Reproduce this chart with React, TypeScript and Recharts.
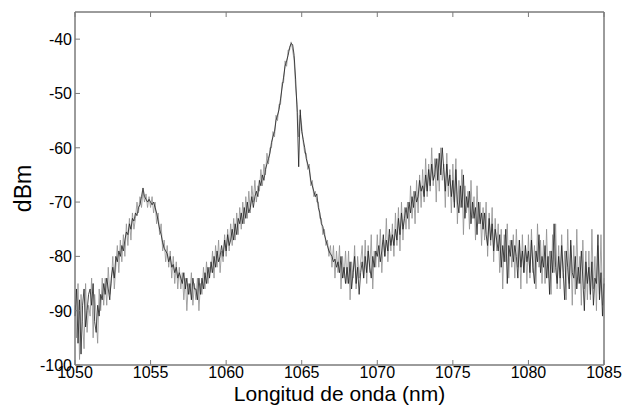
import React from "react";
import { LineChart, Line, XAxis, YAxis, ReferenceArea } from "recharts";

// optical spectrum, one value every 0.1 nm from 1050 nm (two overlaid traces)
const WL_START = 1050;
const WL_STEP = 0.1;

const blackTrace: number[] = [
  // 1050
  -91, -86, -96, -88, -98, -89, -86, -93, -90, -87,
  // 1051
  -86, -89, -85, -92, -94, -89, -91, -87, -88, -85,
  // 1052
  -87, -84, -86, -88, -84, -82, -84, -80, -81, -79,
  // 1053
  -80, -78, -79, -77, -75.5, -76, -74, -75, -73, -73.5,
  // 1054
  -72, -72.5, -71, -70.5, -69, -67.4, -69, -69.5, -70, -69.5,
  // 1055
  -70, -70.5, -70, -71, -72, -73.5, -75, -76, -77.5, -78.5,
  // 1056
  -79, -79.5, -81, -80, -82, -81.5, -83, -82, -84, -83,
  // 1057
  -84, -85, -83, -86, -84, -87, -85, -88, -84, -86,
  // 1058
  -86, -88, -84, -87, -84, -86, -83, -85, -82, -84,
  // 1059
  -81, -83, -80, -82, -79, -81, -80, -78, -80, -77,
  // 1060
  -79, -76, -78, -77, -75, -77, -74, -76, -73, -74,
  // 1061
  -72, -74, -71, -73, -70, -72, -71, -69, -71, -69,
  // 1062
  -68, -69, -66, -67, -65, -66, -64, -63, -62, -61,
  // 1063
  -59, -58, -57, -55, -54, -53, -51, -49, -47, -45,
  // 1064
  -44, -43, -41.5, -40.8, -41, -43, -47.5, -53.5, -63.5, -53,
  // 1065
  -57, -58.5, -60, -62, -63, -64, -66, -67, -68, -69,
  // 1066
  -68.5, -71, -72, -74, -74.5, -76, -77, -78, -79, -79.5,
  // 1067
  -80, -81, -80.5, -82, -81, -83, -80, -84, -82, -85,
  // 1068
  -82, -85, -81, -86, -83, -80, -85, -82, -87, -83,
  // 1069
  -81, -84, -80, -83, -79, -82, -84, -80, -82, -79,
  // 1070
  -80, -78, -81, -79, -76, -80, -77, -79, -75, -78,
  // 1071
  -76, -78, -75, -77, -73, -76, -72, -75, -73, -71,
  // 1072
  -73, -70, -72, -69, -71, -68, -70, -69, -66, -68,
  // 1073
  -67, -69, -65, -68, -64, -67, -63, -66, -65, -62,
  // 1074
  -66, -61, -65, -60, -64, -68, -63, -67, -65, -69,
  // 1075
  -66, -71, -64, -70, -72, -67, -71, -65, -73, -69,
  // 1076
  -71, -68, -74, -70, -73, -71, -76, -70, -74, -72,
  // 1077
  -75, -72, -76, -78, -73, -77, -74, -79, -75, -77,
  // 1078
  -79, -76, -82, -78, -81, -75, -85, -78, -80, -77,
  // 1079
  -81, -78, -80, -84, -77, -82, -79, -83, -78, -81,
  // 1080
  -79, -83, -77, -82, -85, -79, -81, -76, -83, -80,
  // 1081
  -82, -78, -84, -80, -87, -79, -83, -74, -82, -85,
  // 1082
  -80, -84, -78, -83, -88, -79, -82, -86, -77, -83,
  // 1083
  -84, -80, -86, -82, -85, -79, -84, -90, -81, -85,
  // 1084
  -82, -87, -81, -89, -84, -85, -76, -88, -83, -91,
  // 1085
  -85,
];

const grayTrace: number[] = [
  // 1050
  -89, -95, -85, -99, -87, -92, -97, -85, -94, -89,
  // 1051
  -91, -84, -95, -87, -91, -96, -86, -90, -84, -89,
  // 1052
  -84, -89, -82, -87, -85, -80, -86, -82, -78, -83,
  // 1053
  -77, -81, -76, -80, -74, -78, -73, -77, -72, -75,
  // 1054
  -73, -70, -72, -69, -71, -68, -70, -68.5, -71, -69,
  // 1055
  -71, -69, -72, -70, -74, -72, -76, -74, -79, -77,
  // 1056
  -81, -78, -82, -79, -84, -80, -85, -81, -86, -82,
  // 1057
  -86, -83, -88, -84, -90, -85, -87, -83, -89, -85,
  // 1058
  -88, -84, -90, -85, -87, -82, -86, -81, -85, -82,
  // 1059
  -83, -79, -84, -78, -82, -77, -83, -79, -81, -76,
  // 1060
  -80, -75, -79, -74, -78, -73, -77, -72, -76, -71,
  // 1061
  -75, -70, -74, -69, -73, -68, -72, -67, -70, -66,
  // 1062
  -70, -67, -68, -64, -67, -63, -65, -61, -63, -60,
  // 1063
  -60, -57, -58, -54, -55, -52, -52, -48, -48, -44,
  // 1064
  -45, -42, -42, -40.5, -42, -44, -49, -52, -58, -54,
  // 1065
  -56, -59, -61, -61, -64, -63, -67, -66, -69, -68,
  // 1066
  -70, -70, -73, -73, -76, -75, -78, -77, -80, -78,
  // 1067
  -82, -78, -84, -79, -83, -78, -86, -80, -84, -79,
  // 1068
  -85, -79, -88, -81, -84, -78, -86, -80, -84, -81,
  // 1069
  -78, -84, -77, -85, -78, -83, -76, -86, -79, -82,
  // 1070
  -76, -82, -75, -83, -77, -80, -73, -81, -76, -79,
  // 1071
  -74, -80, -72, -78, -71, -79, -70, -77, -71, -75,
  // 1072
  -70, -75, -67, -73, -68, -74, -66, -72, -65, -71,
  // 1073
  -64, -70, -62, -69, -63, -68, -60, -67, -62, -70,
  // 1074
  -62, -68, -60, -66, -63, -71, -61, -69, -64, -72,
  // 1075
  -63, -70, -62, -74, -66, -71, -64, -76, -67, -72,
  // 1076
  -68, -75, -66, -73, -69, -77, -67, -74, -70, -78,
  // 1077
  -71, -77, -70, -80, -72, -78, -71, -81, -73, -79,
  // 1078
  -74, -83, -75, -86, -76, -81, -74, -84, -77, -82,
  // 1079
  -76, -84, -75, -82, -77, -86, -76, -83, -78, -85,
  // 1080
  -76, -84, -75, -83, -78, -86, -74, -82, -77, -85,
  // 1081
  -77, -85, -75, -84, -79, -87, -76, -83, -74, -86,
  // 1082
  -78, -86, -76, -84, -79, -88, -75, -85, -78, -89,
  // 1083
  -78, -87, -75, -85, -80, -89, -77, -86, -79, -88,
  // 1084
  -79, -88, -75, -86, -80, -90, -78, -87, -76, -89,
  // 1085
  -84,
];

const xTicks = [1050, 1055, 1060, 1065, 1070, 1075, 1080, 1085];
const yTicks = [-100, -90, -80, -70, -60, -50, -40];

const data = blackTrace.map((b, i) => ({
  wl: Number((WL_START + i * WL_STEP).toFixed(1)),
  black: b,
  gray: grayTrace[i],
}));

const FONT = "'Liberation Sans', Arial, sans-serif";
const FRAME = "#7a7a7a";
const TICK_LEN = 5;

const BottomTick = ({ x, y, payload }: any) => (
  <g>
    <line x1={x} x2={x} y1={y} y2={y - TICK_LEN} stroke={FRAME} />
    <text x={x} y={y + 13} textAnchor="middle" fontFamily={FONT} fontSize={16} fill="#000">
      {payload.value}
    </text>
  </g>
);

const TopTick = ({ x, y }: any) => (
  <line x1={x} x2={x} y1={y} y2={y + TICK_LEN} stroke={FRAME} />
);

const LeftTick = ({ x, y, payload }: any) => (
  <g>
    <line x1={x} x2={x + TICK_LEN} y1={y} y2={y} stroke={FRAME} />
    <text x={x - 3} y={y + 6} textAnchor="end" fontFamily={FONT} fontSize={16} fill="#000">
      {payload.value}
    </text>
  </g>
);

const RightTick = ({ x, y }: any) => (
  <line x1={x} x2={x - TICK_LEN} y1={y} y2={y} stroke={FRAME} />
);

const XTitle = (props: any) => {
  const { x, y, width } = props.viewBox;
  return (
    <text
      x={x + width / 2}
      y={y + 36}
      textAnchor="middle"
      fontFamily={FONT}
      fontSize={21}
      fill="#000"
    >
      Longitud de onda (nm)
    </text>
  );
};

const YTitle = (props: any) => {
  const { y, height } = props.viewBox;
  const cx = 31;
  const cy = y + height / 2;
  return (
    <text
      x={cx}
      y={cy}
      transform={`rotate(-90, ${cx}, ${cy})`}
      textAnchor="middle"
      fontFamily={FONT}
      fontSize={23}
      fill="#000"
    >
      dBm
    </text>
  );
};

export default function App() {
  return (
    <div style={{ position: "absolute", left: 0, top: 0, background: "#fff" }}>
      <LineChart
        width={626}
        height={414}
        data={data}
        margin={{ top: 11, right: 21, bottom: 0, left: 0 }}
      >
        <XAxis
          xAxisId="b"
          dataKey="wl"
          type="number"
          domain={[1050, 1085]}
          ticks={xTicks}
          height={49}
          stroke={FRAME}
          tickLine={false}
          tickSize={0}
          tickMargin={0}
          tick={<BottomTick />}
          label={<XTitle />}
        />
        <XAxis
          xAxisId="t"
          dataKey="wl"
          type="number"
          orientation="top"
          domain={[1050, 1085]}
          ticks={xTicks}
          height={1}
          stroke={FRAME}
          tickLine={false}
          tickSize={0}
          tickMargin={0}
          tick={<TopTick />}
        />
        <YAxis
          yAxisId="l"
          type="number"
          domain={[-100, -35]}
          ticks={yTicks}
          width={75}
          stroke={FRAME}
          tickLine={false}
          tickSize={0}
          tickMargin={0}
          tick={<LeftTick />}
          label={<YTitle />}
        />
        <YAxis
          yAxisId="r"
          type="number"
          orientation="right"
          domain={[-100, -35]}
          ticks={yTicks}
          width={1}
          stroke={FRAME}
          tickLine={false}
          tickSize={0}
          tickMargin={0}
          tick={<RightTick />}
        />
        <ReferenceArea
          xAxisId="b"
          yAxisId="l"
          x1={1050}
          x2={1085}
          y1={-100}
          y2={-35}
          fill="none"
          stroke={FRAME}
          ifOverflow="visible"
        />
        <Line
          xAxisId="b"
          yAxisId="l"
          dataKey="gray"
          type="linear"
          stroke="#8f8f8f"
          strokeWidth={0.8}
          dot={false}
          isAnimationActive={false}
        />
        <Line
          xAxisId="b"
          yAxisId="l"
          dataKey="black"
          type="linear"
          stroke="#1e1e1e"
          strokeWidth={0.8}
          dot={false}
          isAnimationActive={false}
        />
      </LineChart>
    </div>
  );
}
